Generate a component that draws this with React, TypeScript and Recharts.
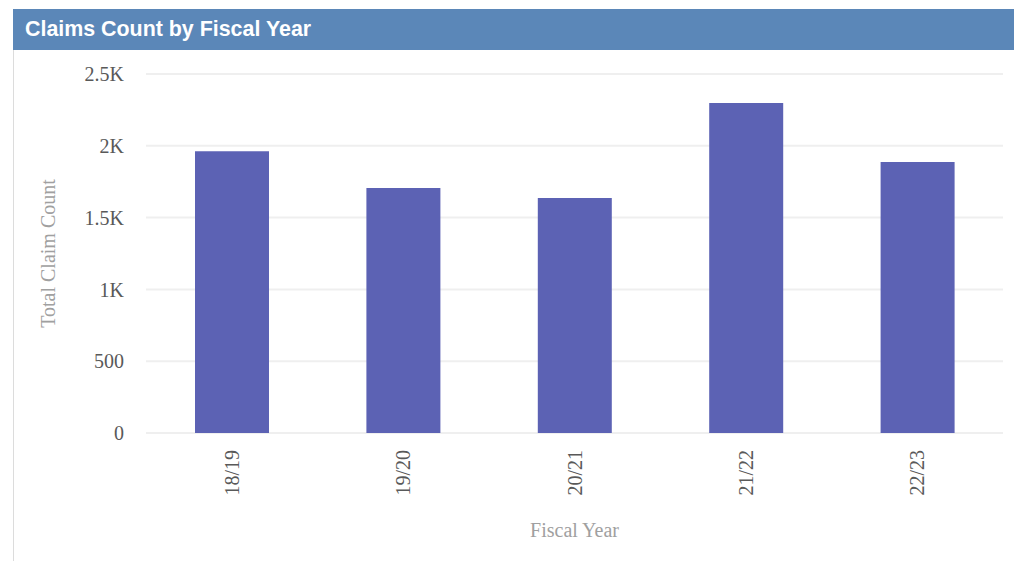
import React from 'react';
import { BarChart, Bar, XAxis, YAxis, CartesianGrid, Label } from 'recharts';

const fiscalYears = ['18/19', '19/20', '20/21', '21/22', '22/23'];
const claimCounts = [1962, 1706, 1636, 2298, 1887];
const yTicks = [0, 500, 1000, 1500, 2000, 2500];

const data = fiscalYears.map((fy, i) => ({ fy, count: claimCounts[i] }));

const serif = '"Liberation Serif", "Times New Roman", serif';

const formatK = (v: number) => (v >= 1000 ? `${v / 1000}K` : `${v}`);

// rotated category ticks, read bottom-to-top
const RotatedTick = ({ x, y, payload }: any) => (
  <text
    x={x}
    y={y + 9}
    transform={`rotate(-90, ${x}, ${y + 9})`}
    textAnchor="end"
    dominantBaseline="central"
    fill="#595959"
    fontSize={20}
    fontFamily={serif}
  >
    {payload.value}
  </text>
);

const YTitle = ({ viewBox }: any) => {
  const cx = 35;
  const cy = viewBox.y + viewBox.height / 2;
  return (
    <text
      x={cx}
      y={cy}
      transform={`rotate(-90, ${cx}, ${cy})`}
      textAnchor="middle"
      dominantBaseline="central"
      fill="#a0a0a0"
      fontSize={20}
      fontFamily={serif}
    >
      Total Claim Count
    </text>
  );
};

const XTitle = ({ viewBox }: any) => (
  <text
    x={viewBox.x + viewBox.width / 2}
    y={480}
    textAnchor="middle"
    dominantBaseline="central"
    fill="#a0a0a0"
    fontSize={20}
    fontFamily={serif}
  >
    Fiscal Year
  </text>
);

export default function App() {
  return (
    <div style={{ position: 'absolute', left: 0, top: 0, width: 1014, height: 561, background: '#fff' }}>
      <div
        style={{
          position: 'absolute',
          left: 13,
          top: 9,
          width: 1001,
          height: 41,
          background: '#5b87b8',
          color: '#fff',
          fontFamily: '"Liberation Sans", Arial, sans-serif',
          fontWeight: 'bold',
          fontSize: 21.4,
          lineHeight: '41px',
          paddingLeft: 12,
          boxSizing: 'border-box',
        }}
      >
        Claims Count by Fiscal Year
      </div>
      <div style={{ position: 'absolute', left: 13, top: 50, width: 1, height: 511, background: '#dcdcdc' }} />
      <div style={{ position: 'absolute', left: 13, top: 50 }}>
        <BarChart width={1001} height={511} data={data} margin={{ top: 24, right: 11, left: 0, bottom: 0 }}>
          <CartesianGrid vertical={false} stroke="#efefef" strokeWidth={2} />
          <XAxis
            dataKey="fy"
            axisLine={false}
            tickLine={false}
            height={128}
            interval={0}
            tick={<RotatedTick />}
          >
            <Label content={<XTitle />} />
          </XAxis>
          <YAxis
            width={133}
            domain={[0, 2500]}
            ticks={yTicks}
            tickFormatter={formatK}
            axisLine={false}
            tickLine={false}
            tickMargin={16}
            tick={{ fill: '#595959', fontSize: 20, fontFamily: serif }}
          >
            <Label content={<YTitle />} />
          </YAxis>
          <Bar dataKey="count" fill="#5c62b4" barSize={74} isAnimationActive={false} />
        </BarChart>
      </div>
    </div>
  );
}
